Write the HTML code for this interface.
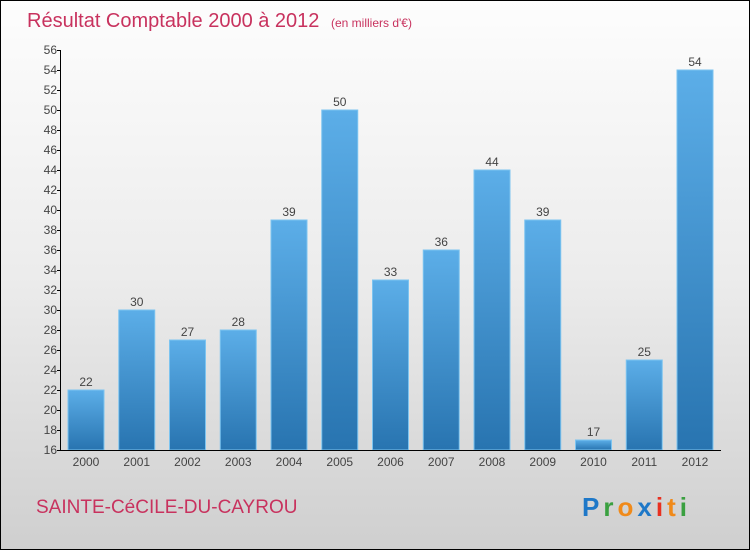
<!DOCTYPE html>
<html><head><meta charset="utf-8"><style>
html,body{margin:0;padding:0}
body{width:750px;height:550px;overflow:hidden;font-family:"Liberation Sans",sans-serif}
</style></head><body>
<svg width="750" height="550" xmlns="http://www.w3.org/2000/svg">
<defs>
<linearGradient id="bg" x1="0" y1="0" x2="0" y2="1"><stop offset="0" stop-color="#fdfdfd"/><stop offset="0.5" stop-color="#ececec"/><stop offset="1" stop-color="#cfcfcf"/></linearGradient>
<linearGradient id="bar" x1="0" y1="0" x2="0" y2="1"><stop offset="0" stop-color="#5caee8"/><stop offset="1" stop-color="#2874b0"/></linearGradient>
</defs>
<rect x="0.5" y="0.5" width="749" height="549" fill="url(#bg)" stroke="#000"/>
<text x="27" y="27" font-size="20" fill="#c8325e">Résultat Comptable 2000 à 2012 <tspan font-size="12" dx="6">(en milliers d'€)</tspan></text>
<g id="plot"></g>
<text x="36" y="513" font-size="19" fill="#c8325e">SAINTE-CéCILE-DU-CAYROU</text>
<text x="582" y="516" font-size="26" font-weight="bold" letter-spacing="4"><tspan fill="#1e78c8">P</tspan><tspan fill="#3aa040">r</tspan><tspan fill="#f08a1a">o</tspan><tspan fill="#1e78c8">x</tspan><tspan fill="#e83020">i</tspan><tspan fill="#f08a1a">t</tspan><tspan fill="#3aa040">i</tspan></text>
</svg>
<script>
const categories=["2000","2001","2002","2003","2004","2005","2006","2007","2008","2009","2010","2011","2012"];
const values=[22,30,27,28,39,50,33,36,44,39,17,25,54];
const yTicks=[16,18,20,22,24,26,28,30,32,34,36,38,40,42,44,46,48,50,52,54,56];
const NS="http://www.w3.org/2000/svg";
const g=document.getElementById('plot');
const yMin=16,yMax=56,plotTop=50,plotBottom=450;
const y=v=>plotBottom-(v-yMin)/(yMax-yMin)*(plotBottom-plotTop);
const x=i=>86+i*50.75;
function mk(t,a){const e=document.createElementNS(NS,t);for(const k in a)e.setAttribute(k,a[k]);g.appendChild(e);return e;}
values.forEach((v,i)=>{
 const r=mk('rect',{x:x(i)-18,y:y(v),width:36,height:plotBottom-y(v),fill:'url(#bar)',stroke:'#7cc4f0','stroke-width':1});
 
 
 const t=mk('text',{x:x(i),y:y(v)-4,'text-anchor':'middle','font-size':12,fill:'#444'});
 t.textContent=v;
 
 
 const c=mk('text',{x:x(i),y:466,'text-anchor':'middle','font-size':12,fill:'#444'});
 c.textContent=categories[i];
 
 
});
const ya=mk('line',{x1:60.5,y1:plotTop,x2:60.5,y2:plotBottom,stroke:'#000'});


const xa=mk('line',{x1:60,y1:plotBottom+0.5,x2:721,y2:plotBottom+0.5,stroke:'#000'});


yTicks.forEach(v=>{
 mk('line',{x1:57,y1:y(v)+0.5,x2:61,y2:y(v)+0.5,stroke:'#000'});
 const t=mk('text',{x:57,y:y(v)+4,'text-anchor':'end','font-size':12,fill:'#444'});
 t.textContent=v;
 
 
});
</script>
</body></html>
